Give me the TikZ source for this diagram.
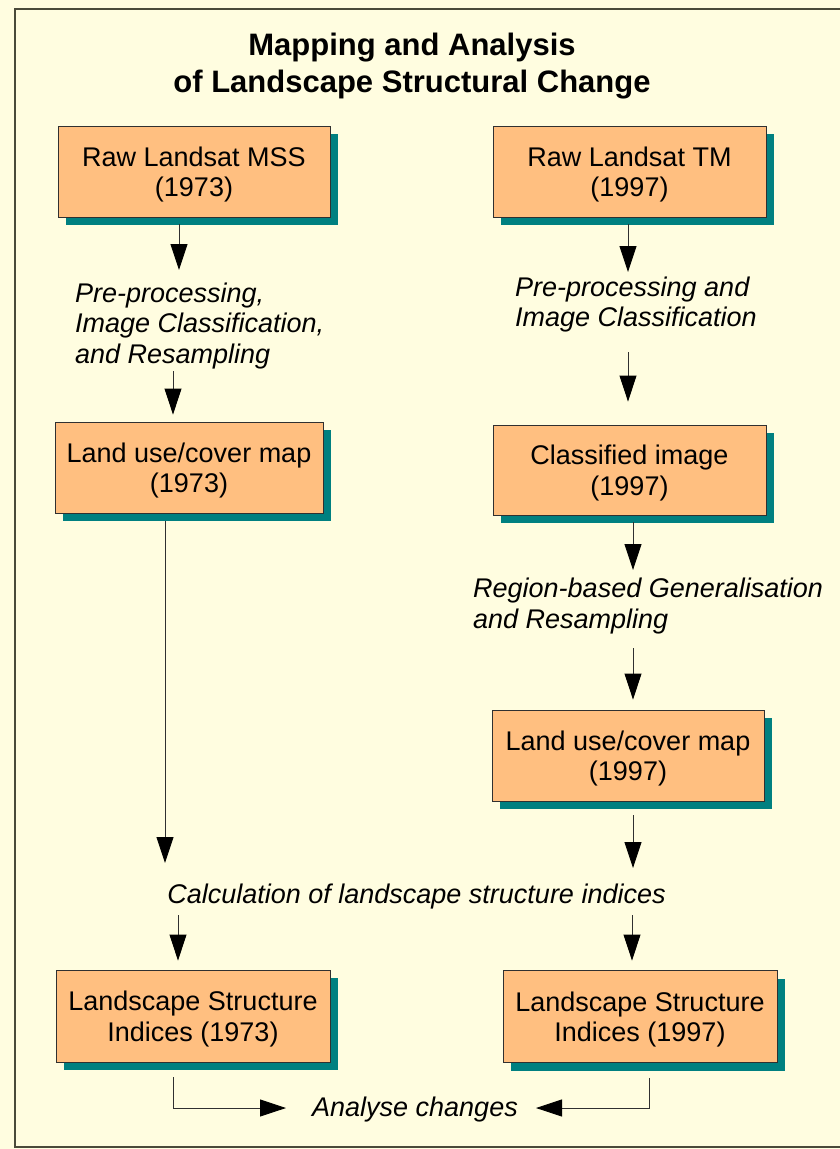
\documentclass[tikz,border=0pt]{standalone}
\usepackage{fontspec}
\setmainfont{Liberation Sans}
\usetikzlibrary{arrows.meta,shadows,calc}
\definecolor{bg}{HTML}{FFFDE0}
\definecolor{boxfill}{HTML}{FFBF80}
\definecolor{shad}{HTML}{008080}
\definecolor{framec}{HTML}{4A4A3A}
\definecolor{ln}{HTML}{303030}
\newcommand\lowline[1]{\raisebox{-3pt}[\height][\depth]{#1}}
\begin{document}
\begin{tikzpicture}[x=1pt,y=-1pt,
  box/.style={draw=ln, line width=0.9pt, fill=boxfill, minimum width=272pt, minimum height=91pt,
    inner sep=0pt, align=center, font=\fontsize{27pt}{30.5pt}\selectfont,
    drop shadow={shadow xshift=8pt, shadow yshift=-8pt, fill=shad, opacity=1}},
  lab/.style={inner sep=0pt, align=left, font=\fontsize{27pt}{30.5pt}\selectfont\itshape},
  arr/.style={draw=ln, line width=0.9pt, -{Triangle[length=26pt,width=17pt,color=black]}},
]
\fill[bg] (0,0) rectangle (840,1149);
\useasboundingbox (0,0) rectangle (840,1149);
\draw[framec, line width=1.5pt] (840,9) -- (15,9) -- (15,1147) -- (840,1147);

\node[font=\fontsize{31pt}{36.5pt}\selectfont\bfseries, align=center, inner sep=0pt, anchor=north] (title)
  at (412,33) {Mapping and Analysis\\of Landscape Structural Change};

\node[box] (mss) at (194,171.5) {\lowline{Raw Landsat MSS}\\\lowline{(1973)}};
\node[box, minimum width=273pt] (tm) at (629.5,171.5) {\lowline{Raw Landsat TM}\\\lowline{(1997)}};
\node[box, minimum width=268pt] (lu73) at (189,467.5) {\lowline{Land use/cover map}\\\lowline{(1973)}};
\node[box, minimum width=273pt, minimum height=90pt] (ci97) at (629.5,470) {\lowline{Classified image}\\\lowline{(1997)}};
\node[box] (lu97) at (628,755.5) {\lowline{Land use/cover map}\\\lowline{(1997)}};
\node[box, minimum width=274pt, minimum height=92pt] (lsi73) at (193,1016) {\lowline{Landscape Structure}\\\lowline{Indices (1973)}};
\node[box, minimum width=274pt, minimum height=92pt] (lsi97) at (640,1016.5) {\lowline{Landscape Structure}\\\lowline{Indices (1997)}};

\node[lab, anchor=north west] (l1) at (75,282.4) {Pre-processing,\\Image Classification,\\and Resampling};
\node[lab, anchor=north west] (l2) at (515,276.4) {Pre-processing and\\Image Classification};
\node[lab, anchor=north west] (l3) at (473,578) {Region-based Generalisation\\and Resampling};
\node[lab, anchor=base] (l4) at (416.5,903) {Calculation of landscape structure indices};
\node[lab, anchor=base] (l5) at (415,1116) {Analyse changes};

\draw[arr] ($(mss.south)+(-15,7)$) -- ($(l1.north west)+(104,-12.4)$);
\draw[arr] ($(l1.north west)+(98,89)$) -- ($(lu73.north)+(-16,-7)$);
\draw[arr] ($(tm.south)+(-1.5,7)$) -- ($(l2.north west)+(113,-4.4)$);
\draw[arr] ($(l2.north west)+(113,75.6)$) -- ($(ci97.north)+(-1.5,-23)$);
\draw[arr] ($(ci97.south)+(3.5,7)$) -- ($(l3.north west)+(160,-8)$);
\draw[arr] ($(l3.north west)+(160,70)$) -- ($(lu97.north)+(5,-10)$);
\draw[arr] ($(lu73.south)+(-24,8)$) -- ($(l4.base)+(-251.5,-40)$);
\draw[arr] ($(lu97.south)+(5,14)$) -- ($(l4.base)+(216.5,-35)$);
\draw[arr] ($(l4.base)+(-238.5,12)$) -- ($(lsi73.north)+(-15,-9)$);
\draw[arr] ($(l4.base)+(215.5,12)$) -- ($(lsi97.north)+(-8,-9.5)$);
\draw[arr] ($(lsi73.south)+(-20,15)$) |- ($(l5.base)+(-129,-8)$);
\draw[arr] ($(lsi97.south)+(9,15)$) |- ($(l5.base)+(121,-8)$);
\end{tikzpicture}
\end{document}
